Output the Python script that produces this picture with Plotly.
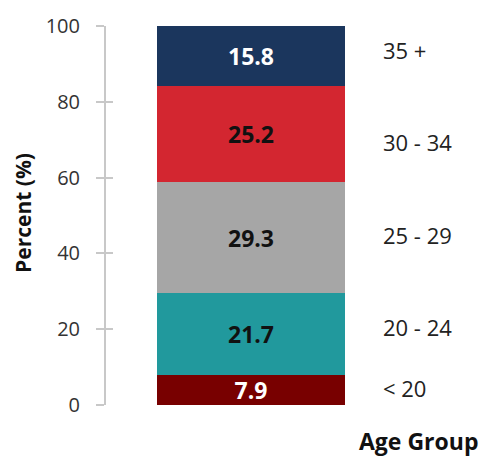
import plotly.graph_objects as go

# Share of each age group (bottom to top of the stacked bar)
age_groups = ["< 20", "20 - 24", "25 - 29", "30 - 34", "35 +"]
percents = [7.9, 21.7, 29.3, 25.2, 15.8]
bar_colors = ["#780000", "#21999d", "#a6a6a6", "#d32630", "#1b365d"]
label_colors = ["#ffffff", "#111111", "#111111", "#111111", "#ffffff"]
# vertical placement of the group names on the right (percent scale)
name_y = [4.5, 20.5, 44.9, 69.3, 93.7]
y_ticks = [0, 20, 40, 60, 80, 100]

FONT = "Open Sans"

fig = go.Figure()
for grp, val, col, tcol in zip(age_groups, percents, bar_colors, label_colors):
    fig.add_trace(go.Bar(
        x=["all"], y=[val], name=grp,
        marker=dict(color=col, line=dict(width=0)),
        width=0.648,
        text=[f"{val:.1f}"], textposition="inside", insidetextanchor="middle",
        textangle=0, constraintext="none",
        textfont=dict(family=FONT, size=23, color=tcol, weight="bold"),
        showlegend=False,
    ))

# empty trace carrying the inner half of the tick marks
fig.add_trace(go.Scatter(x=[], y=[], yaxis="y2", showlegend=False))

for grp, yy in zip(age_groups, name_y):
    fig.add_annotation(x=0.948, y=yy, xref="paper", yref="y", text=grp,
                       showarrow=False, xanchor="left", yanchor="middle",
                       font=dict(family=FONT, size=22, color="#222222"))

fig.add_annotation(x=-0.286, y=0.507, xref="paper", yref="paper", text="<b>Percent (%)</b>",
                   textangle=-90, showarrow=False, xanchor="center", yanchor="middle",
                   font=dict(family=FONT, size=21, color="#111111"))
fig.add_annotation(x=1.29, y=-0.1417, xref="paper", yref="paper", text="<b>Age Group</b>",
                   showarrow=False, xanchor="right", yanchor="bottom",
                   font=dict(family=FONT, size=23, color="#111111"))

fig.update_layout(
    width=483, height=459,
    margin=dict(l=106, r=87, t=24, b=54),
    barmode="stack", bargap=0,
    plot_bgcolor="white", paper_bgcolor="white",
    xaxis=dict(range=[-0.5, 0.5], showticklabels=False, showline=False,
               showgrid=False, zeroline=False, ticks=""),
    yaxis=dict(range=[0, 100], tickvals=y_ticks, ticks="outside", ticklen=8,
               tickwidth=2, tickcolor="#c8c8c8", showline=True, linecolor="#c8c8c8",
               linewidth=2, showgrid=False, zeroline=False, ticklabelstandoff=12,
               tickfont=dict(family=FONT, size=20, color="#333333")),
    yaxis2=dict(range=[0, 100], overlaying="y", side="left", anchor="x",
                tickvals=y_ticks, ticks="inside", ticklen=7, tickwidth=2,
                tickcolor="#c8c8c8", showticklabels=False, showline=False,
                showgrid=False, zeroline=False),
)

fig.write_html("out.html")
